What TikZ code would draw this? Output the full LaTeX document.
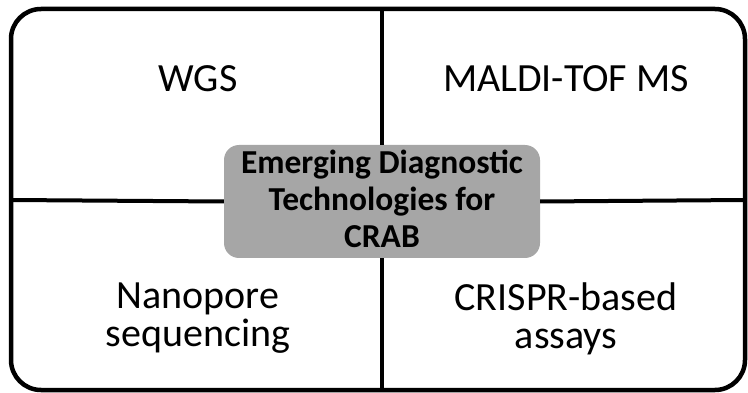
\documentclass[tikz,border=0pt]{standalone}
\usepackage{fontspec}
\setmainfont{Carlito}
\begin{document}
\begin{tikzpicture}[x=1pt,y=-1pt,
  frame/.style={line width=4.5pt,rounded corners=30pt},
  divider/.style={line width=4pt},
  hub/.style={fill=black!35,rounded corners=15pt,minimum width=316pt,minimum height=113pt,
    align=center,font=\fontsize{33.5}{37}\selectfont\bfseries,inner sep=0pt},
  quad/.style={align=center,font=\fontsize{40}{38}\selectfont,inner sep=0pt}]
\useasboundingbox (0,0) rectangle (748,393);
\draw[frame] (11,9) rectangle (745,390);
\coordinate (T) at (382,9);
\coordinate (B) at (382,390);
\coordinate (L) at (11,200);
\coordinate (R) at (745,200);
\node[hub] (c) at (382,201.5) {};
\node[align=center,font=\fontsize{33.5}{37}\selectfont\bfseries,inner sep=0pt] (ct) at (382,199)
  {Emerging Diagnostic\\Technologies for\\CRAB};
\draw[divider] (T) -- (c.north);
\draw[divider] (c.south) -- (B);
\draw[divider] (L) -- (c.west);
\draw[divider] (c.east) -- (R);
\node[quad] (wgs) at (198,79) {WGS};
\node[quad] (maldi) at (566,79) {MALDI-TOF MS};
\node[quad] (nano) at (198,318.5) {Nanopore\\sequencing};
\node[quad] (crispr) at (566,318.5) {CRISPR-based\\assays};
\end{tikzpicture}
\end{document}
